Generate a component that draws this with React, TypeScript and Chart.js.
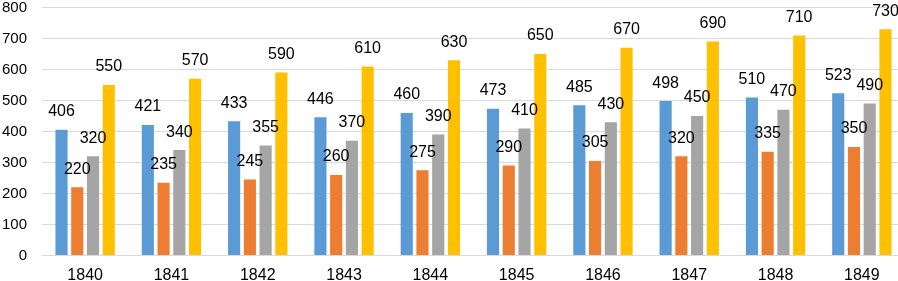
import React, { useEffect, useRef } from "react";
import { Chart, registerables } from "chart.js";

Chart.register(...registerables);

const categories = ["1840", "1841", "1842", "1843", "1844", "1845", "1846", "1847", "1848", "1849"];
const series1 = [406, 421, 433, 446, 460, 473, 485, 498, 510, 523];
const series2 = [220, 235, 245, 260, 275, 290, 305, 320, 335, 350];
const series3 = [320, 340, 355, 370, 390, 410, 430, 450, 470, 490];
const series4 = [550, 570, 590, 610, 630, 650, 670, 690, 710, 730];
const seriesNames = ["Series1", "Series2", "Series3", "Series4"];
const seriesColors = ["#5B9BD5", "#ED7D31", "#A5A5A5", "#FFC000"];

const FONT = "'Liberation Sans', Arial, sans-serif";

const labelPlugin = {
  id: "barLabels",
  afterDatasetsDraw(chart: any) {
    const ctx = chart.ctx;
    ctx.save();
    ctx.font = `16px ${FONT}`;
    ctx.fillStyle = "#000";
    ctx.textAlign = "center";
    ctx.textBaseline = "middle";
    chart.data.datasets.forEach((ds: any, i: number) => {
      const meta = chart.getDatasetMeta(i);
      meta.data.forEach((bar: any, j: number) => {
        ctx.fillText(String(ds.data[j]), bar.x, bar.y - 18);
      });
    });
    ctx.restore();
  },
};

export default function App() {
  const ref = useRef<HTMLCanvasElement | null>(null);
  useEffect(() => {
    document.body.style.margin = "0";
    const canvas = ref.current!;
    const data = [series1, series2, series3, series4];
    const chart = new Chart(canvas, {
      type: "bar",
      data: {
        labels: categories,
        datasets: data.map((d, i) => ({
          label: seriesNames[i],
          data: d,
          backgroundColor: seriesColors[i],
          borderWidth: 0,
          barPercentage: 0.77,
          categoryPercentage: 0.73,
        })),
      },
      options: {
        responsive: false,
        animation: false,
        layout: { padding: { top: 0, right: 0, left: 0, bottom: 0 } },
        plugins: { legend: { display: false }, tooltip: { enabled: false } },
        scales: {
          x: {
            grid: { display: false, drawTicks: false },
            border: { display: true, color: "#d9d9d9" },
            ticks: { font: { family: FONT, size: 16 }, color: "#000", padding: 10.5 },
            afterFit: (s: any) => { s.height = 25.5; s.paddingLeft = 0; s.paddingRight = 0; },
          },
          y: {
            min: 0,
            max: 800,
            ticks: { stepSize: 100, font: { family: FONT, size: 15 }, color: "#000", padding: 15 },
            grid: { color: "#d9d9d9", drawTicks: false },
            border: { display: false },
            afterFit: (s: any) => { s.width = 42; s.paddingTop = 7.5; s.paddingBottom = 0; },
          },
        },
      },
      plugins: [labelPlugin],
    });
    return () => chart.destroy();
  }, []);
  return (
    <div style={{ width: 898, height: 281, overflow: "hidden" }}>
      <canvas ref={ref} width={905} height={281} style={{ display: "block" }} />
    </div>
  );
}
